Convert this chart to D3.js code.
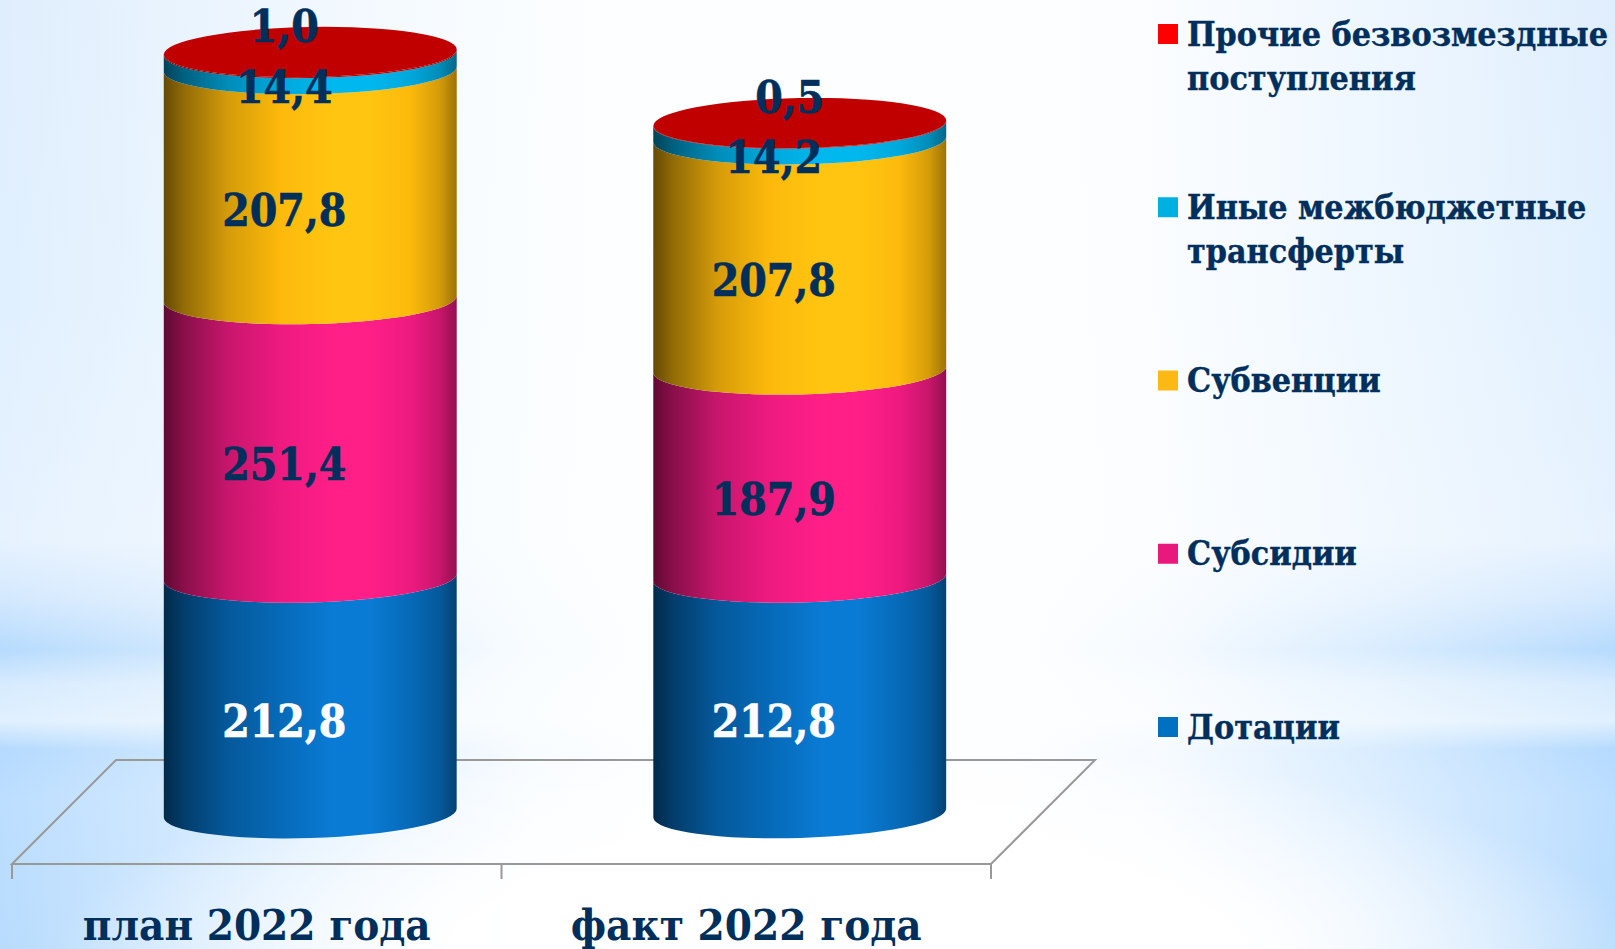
<!DOCTYPE html>
<html>
<head>
<meta charset="utf-8">
<script src="https://cdn.jsdelivr.net/npm/d3@7"></script>
<style>
html, body { margin: 0; padding: 0; background: #fff; overflow: hidden; }
text { font-family: "DejaVu Serif Condensed", "DejaVu Serif", serif; font-weight: bold; font-stretch: condensed; }
</style>
</head>
<body>
<div id="chart"></div>
<script>
const categories = ['план 2022 года', 'факт 2022 года'];
const seriesNames = ['Дотации', 'Субсидии', 'Субвенции', 'Иные межбюджетные трансферты', 'Прочие безвозмездные поступления'];
const dotacii = [212.8, 212.8];
const subsidii = [251.4, 187.9];
const subvencii = [207.8, 207.8];
const inye = [14.4, 14.2];
const prochie = [1.0, 0.5];

const highlightColors = ['#0a7bd4', '#ff1f87', '#ffc510', '#00b8ee', '#c00000'];
const bodyColors = ['#066ab8', '#ee1a80', '#fdba0c', '#00a8dc', '#b00000'];
const legendColors = ['#0070c0', '#e8187c', '#fdb913', '#00b0e0', '#ff0000'];
const ink = '#012f5c';

const width = 1615, height = 949;
const rx = 146.5, ry = 25;
const depth = 53.5;

const svg = d3.select('#chart').append('svg')
    .attr('width', width)
    .attr('height', height)
    .style('display', 'block');
const defs = svg.append('defs');

function addGradient(id, stops, vertical) {
    const g = defs.append('linearGradient').attr('id', id)
        .attr('x1', 0).attr('y1', 0)
        .attr('x2', vertical ? 0 : 1).attr('y2', vertical ? 1 : 0);
    stops.forEach(s => g.append('stop')
        .attr('offset', s[0])
        .attr('stop-color', s[1])
        .attr('stop-opacity', s[2] === undefined ? 1 : s[2]));
}

function shade(c, k) {
    const col = d3.rgb(c);
    return d3.rgb(col.r * k, col.g * k, col.b * k);
}

// background: blue bands at the edges, washed out to white towards the middle
addGradient('bgEdge', [
    [0, '#dfeefd'], [0.32, '#e0f0fe'], [0.57, '#e6f2fe'], [0.63, '#d4e9fe'], [0.685, '#b6dbfd'],
    [0.72, '#d6ebfe'], [0.76, '#e0f0fe'], [0.79, '#b4dafe'], [0.84, '#bcdeff'], [1, '#b8dcfd']
], true);
addGradient('bgWash', [
    [0, '#fcfeff', 0], [0.1, '#fcfeff', 0.3], [0.2, '#fcfeff', 0.62], [0.33, '#fcfeff', 0.94], [0.42, '#fdfeff', 1],
    [0.62, '#fdfeff', 1], [0.72, '#fdfeff', 0.9], [0.85, '#fcfeff', 0.52], [1, '#fcfeff', 0]
], false);
const glow = defs.append('radialGradient').attr('id', 'bgGlow');
glow.append('stop').attr('offset', 0.5).attr('stop-color', '#fff').attr('stop-opacity', 0.95);
glow.append('stop').attr('offset', 1).attr('stop-color', '#fff').attr('stop-opacity', 0);
svg.append('rect').attr('width', width).attr('height', height).attr('fill', 'url(#bgEdge)');
svg.append('rect').attr('width', width).attr('height', height).attr('fill', 'url(#bgWash)');
svg.append('ellipse').attr('cx', 850).attr('cy', 960).attr('rx', 800).attr('ry', 220).attr('fill', 'url(#bgGlow)');

// cylinder shading, one per series
highlightColors.forEach((c, i) => {
    const body = bodyColors[i];
    addGradient('side' + i, [
        [0, shade(body, 0.4)],
        [0.07, shade(body, 0.58)],
        [0.22, shade(body, 0.84)],
        [0.4, body],
        [0.58, c],
        [0.7, c],
        [0.84, body],
        [0.94, shade(body, 0.84)],
        [1, shade(body, 0.62)]
    ], false);
});

const x = d3.scaleBand().domain(categories).range([12, 991]);
const y = d3.scaleLinear().domain([0, 687.4]).range([813, 52]);
// the 3D view makes lower rims lean a little more than upper ones
const tilt = d3.scaleLinear().domain([52, 813]).range([-1.0, -1.75]);

// floor
const floorY = 864, backY = 760, floorDepth = 104;
const floor = svg.append('g').attr('stroke', '#999').attr('stroke-width', 2).attr('fill', 'none');
floor.append('path').attr('d', d3.line()([
    [x.range()[0], floorY], [x.range()[0] + floorDepth, backY],
    [x.range()[1] + floorDepth, backY], [x.range()[1], floorY]
]) + 'Z');
floor.selectAll('line').data([...categories.map(c => x(c)), x.range()[1]]).join('line')
    .attr('x1', d => d).attr('x2', d => d)
    .attr('y1', floorY).attr('y2', floorY + 15);

const allSeries = [dotacii, subsidii, subvencii, inye, prochie];

function rim(cx, yc) {
    const a = tilt(yc) * Math.PI / 180;
    return {
        left: [cx - rx * Math.cos(a), yc - rx * Math.sin(a)],
        right: [cx + rx * Math.cos(a), yc + rx * Math.sin(a)],
        deg: tilt(yc)
    };
}

function segmentPath(cx, y0, y1) {
    const b = rim(cx, y0), t = rim(cx, y1);
    return `M${b.left}A${rx},${ry} ${b.deg} 0 0 ${b.right}L${t.right}A${rx},${ry} ${t.deg} 0 1 ${t.left}Z`;
}

const fmt = d3.formatLocale({ decimal: ',', thousands: ' ', grouping: [3], currency: ['', ''] }).format('.1f');
const topLabelNudge = [0, 16];

categories.forEach((cat, ci) => {
    const cx = x(cat) + x.bandwidth() / 2 + depth;
    const g = svg.append('g');
    let sum = 0;
    const stack = allSeries.map((vals, si) => {
        const start = sum;
        sum += vals[ci];
        return { si, start, end: sum, value: vals[ci] };
    });

    g.selectAll('path.seg').data(stack).join('path')
        .attr('class', 'seg')
        .attr('d', d => segmentPath(cx, y(d.start), y(d.end)))
        .attr('fill', d => `url(#side${d.si})`);

    const lid = y(sum);
    g.append('ellipse')
        .attr('cx', cx).attr('cy', lid).attr('rx', rx).attr('ry', ry)
        .attr('transform', `rotate(${tilt(lid)} ${cx} ${lid})`)
        .attr('fill', '#c00000');

    g.selectAll('text').data(stack).join('text')
        .attr('x', d => cx - 26 + (d.si === 4 ? topLabelNudge[ci] : 0))
        .attr('y', d => y((d.start + d.end) / 2) + (d.si === 4 ? -ry - 1 : ry + 1))
        .attr('dy', '0.36em')
        .attr('text-anchor', 'middle')
        .attr('font-size', 44)
        .attr('fill', d => d.si === 0 ? '#fff' : ink)
        .attr('stroke', d => d.si === 0 ? '#fff' : ink)
        .attr('stroke-width', 0.6)
        .text(d => fmt(d.value));

    svg.append('text')
        .attr('x', x(cat) + x.bandwidth() / 2)
        .attr('y', 939.5)
        .attr('text-anchor', 'middle')
        .attr('font-size', 43.5)
        .attr('fill', ink)
        .text(cat);
});

// legend, top to bottom is the stack order reversed
const legendLines = {
    'Прочие безвозмездные поступления': ['Прочие безвозмездные', 'поступления'],
    'Иные межбюджетные трансферты': ['Иные межбюджетные', 'трансферты']
};
const legendY = d3.scalePoint().domain(seriesNames.slice().reverse()).range([34, 727]);
const legend = svg.selectAll('g.legend').data(seriesNames).join('g')
    .attr('class', 'legend')
    .attr('transform', d => `translate(1158,${legendY(d)})`);
legend.append('rect')
    .attr('y', -10).attr('width', 20).attr('height', 20)
    .attr('fill', (d, i) => legendColors[i]);
legend.append('text')
    .attr('font-size', 33.7)
    .attr('fill', ink)
    .attr('stroke', ink)
    .attr('stroke-width', 0.4)
    .selectAll('tspan').data(d => legendLines[d] || [d]).join('tspan')
    .attr('x', 29)
    .attr('y', (d, i) => 11.5 + i * 44)
    .text(d => d);
</script>
</body>
</html>
